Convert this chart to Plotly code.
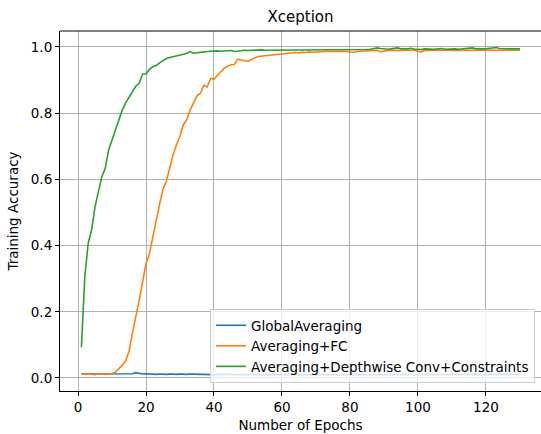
import plotly.graph_objects as go

epochs = list(range(1, 131))

global_avg = [
    0.012, 0.013, 0.012, 0.013, 0.012, 0.012, 0.013, 0.012, 0.012, 0.013,
    0.012, 0.013, 0.012, 0.011, 0.012, 0.013, 0.016, 0.014, 0.012, 0.013,
    0.012, 0.012, 0.011, 0.012, 0.011, 0.011, 0.012, 0.011, 0.011, 0.012,
    0.011, 0.011, 0.012, 0.011, 0.010, 0.011, 0.011, 0.010, 0.011, 0.010,
    0.011, 0.010, 0.011, 0.011, 0.010, 0.011, 0.010, 0.011, 0.010, 0.010,
    0.011, 0.010, 0.011, 0.010, 0.011, 0.010, 0.010, 0.011, 0.010, 0.011,
    0.010, 0.011, 0.010, 0.010, 0.011, 0.010, 0.011, 0.010, 0.010, 0.011,
    0.010, 0.010, 0.011, 0.010, 0.011, 0.010, 0.010, 0.011, 0.010, 0.010,
    0.011, 0.010, 0.010, 0.011, 0.010, 0.011, 0.010, 0.010, 0.011, 0.010,
    0.010, 0.011, 0.010, 0.010, 0.011, 0.010, 0.011, 0.010, 0.010, 0.011,
    0.010, 0.010, 0.011, 0.010, 0.011, 0.010, 0.010, 0.011, 0.010, 0.010,
    0.011, 0.010, 0.010, 0.011, 0.010, 0.011, 0.010, 0.010, 0.011, 0.010,
    0.010, 0.011, 0.010, 0.010, 0.011, 0.010, 0.011, 0.010, 0.010, 0.011,
]

avg_fc = [
    0.012, 0.011, 0.013, 0.012, 0.010, 0.013, 0.011, 0.011, 0.012, 0.013,
    0.018, 0.028, 0.038, 0.052, 0.080, 0.135, 0.180, 0.235, 0.290, 0.345,
    0.375, 0.430, 0.475, 0.525, 0.570, 0.595, 0.635, 0.675, 0.705, 0.730,
    0.765, 0.780, 0.810, 0.830, 0.852, 0.860, 0.884, 0.879, 0.905, 0.903,
    0.915, 0.925, 0.935, 0.942, 0.946, 0.947, 0.963, 0.960, 0.958, 0.957,
    0.963, 0.967, 0.971, 0.972, 0.974, 0.975, 0.976, 0.977, 0.979, 0.980,
    0.981, 0.982, 0.981, 0.983, 0.982, 0.984, 0.983, 0.985, 0.984, 0.985,
    0.986, 0.985, 0.986, 0.987, 0.986, 0.987, 0.986, 0.987, 0.986, 0.984,
    0.983, 0.986, 0.987, 0.988, 0.988, 0.989, 0.989, 0.990, 0.985, 0.988,
    0.989, 0.990, 0.989, 0.990, 0.989, 0.990, 0.990, 0.989, 0.990, 0.987,
    0.985, 0.989, 0.990, 0.989, 0.990, 0.990, 0.989, 0.990, 0.990, 0.989,
    0.990, 0.989, 0.990, 0.990, 0.990, 0.989, 0.990, 0.990, 0.991, 0.990,
    0.990, 0.990, 0.991, 0.990, 0.990, 0.990, 0.989, 0.990, 0.990, 0.990,
]

avg_dw = [
    0.093, 0.307, 0.407, 0.447, 0.517, 0.563, 0.608, 0.633, 0.688, 0.719,
    0.751, 0.782, 0.809, 0.831, 0.849, 0.864, 0.881, 0.891, 0.918, 0.918,
    0.932, 0.940, 0.944, 0.952, 0.958, 0.965, 0.968, 0.970, 0.972, 0.974,
    0.978, 0.981, 0.986, 0.981, 0.983, 0.984, 0.985, 0.986, 0.987, 0.988,
    0.988, 0.987, 0.988, 0.989, 0.989, 0.986, 0.988, 0.990, 0.990, 0.989,
    0.990, 0.989, 0.990, 0.991, 0.990, 0.990, 0.991, 0.990, 0.991, 0.991,
    0.990, 0.991, 0.991, 0.990, 0.991, 0.992, 0.991, 0.991, 0.992, 0.991,
    0.991, 0.992, 0.991, 0.992, 0.992, 0.991, 0.992, 0.991, 0.992, 0.992,
    0.991, 0.992, 0.991, 0.992, 0.992, 0.993, 0.995, 0.997, 0.995, 0.993,
    0.993, 0.994, 0.995, 0.997, 0.994, 0.993, 0.994, 0.996, 0.993, 0.993,
    0.992, 0.994, 0.993, 0.994, 0.993, 0.994, 0.995, 0.993, 0.994, 0.993,
    0.994, 0.993, 0.994, 0.995, 0.996, 0.997, 0.994, 0.993, 0.994, 0.994,
    0.995, 0.997, 0.998, 0.995, 0.994, 0.993, 0.994, 0.994, 0.994, 0.994,
]

series_names = ["GlobalAveraging", "Averaging+FC", "Averaging+Depthwise Conv+Constraints"]
series_colors = ["#1f77b4", "#ff7f0e", "#2ca02c"]
x_ticks = [0, 20, 40, 60, 80, 100, 120]
y_ticks = [0.0, 0.2, 0.4, 0.6, 0.8, 1.0]
y_tick_labels = ["0.0", "0.2", "0.4", "0.6", "0.8", "1.0"]

FONT = "DejaVu Sans"

fig = go.Figure()
for name, vals, col in zip(series_names, [global_avg, avg_fc, avg_dw], series_colors):
    fig.add_trace(go.Scatter(x=epochs, y=vals, mode="lines", name=name,
                             line=dict(color=col, width=1.6)))

axis_common = dict(
    showgrid=True, gridcolor="#b0b0b0", gridwidth=1,
    zeroline=False, showline=True, linecolor="black", linewidth=1.1,
    ticks="outside", ticklen=4, tickwidth=1, tickcolor="black",
    tickfont=dict(family=FONT, size=13.5, color="black"),
    mirror=False, automargin=False,
)

fig.update_layout(
    width=541, height=434,
    margin=dict(l=60, r=0, t=31, b=43),
    paper_bgcolor="white", plot_bgcolor="white",
    font=dict(family=FONT, color="black"),
    title=dict(text="Xception", x=(60 + 541) / 2 / 541, xanchor="center",
               y=1 - 17 / 434, yanchor="middle",
               font=dict(family=FONT, size=15, color="black")),
    xaxis=dict(range=[-5.3, 136.2], tickvals=x_ticks,
               title=dict(text="Number of Epochs", standoff=6,
                          font=dict(family=FONT, size=13.5, color="black")),
               **axis_common),
    yaxis=dict(range=[-0.0393, 1.048], tickvals=y_ticks, ticktext=y_tick_labels,
               title=dict(text="Training Accuracy", standoff=9,
                          font=dict(family=FONT, size=13.5, color="black")),
               **axis_common),
    legend=dict(x=(535 - 60) / 481, xanchor="right", y=(391 - 383) / 360, yanchor="bottom",
                bgcolor="rgba(255,255,255,0.8)", bordercolor="#cccccc", borderwidth=1,
                font=dict(family=FONT, size=13.5, color="black"),
                itemwidth=30, tracegroupgap=0),
    showlegend=True,
)

# top frame line (right spine falls outside the canvas in the reference)
fig.add_shape(type="line", xref="paper", yref="paper", x0=0, x1=1, y0=1, y1=1,
              line=dict(color="black", width=1.1))

fig.write_html("out.html",
               config={"displayModeBar": False},
               post_script="document.body.style.margin='0';document.body.style.padding='0';")
